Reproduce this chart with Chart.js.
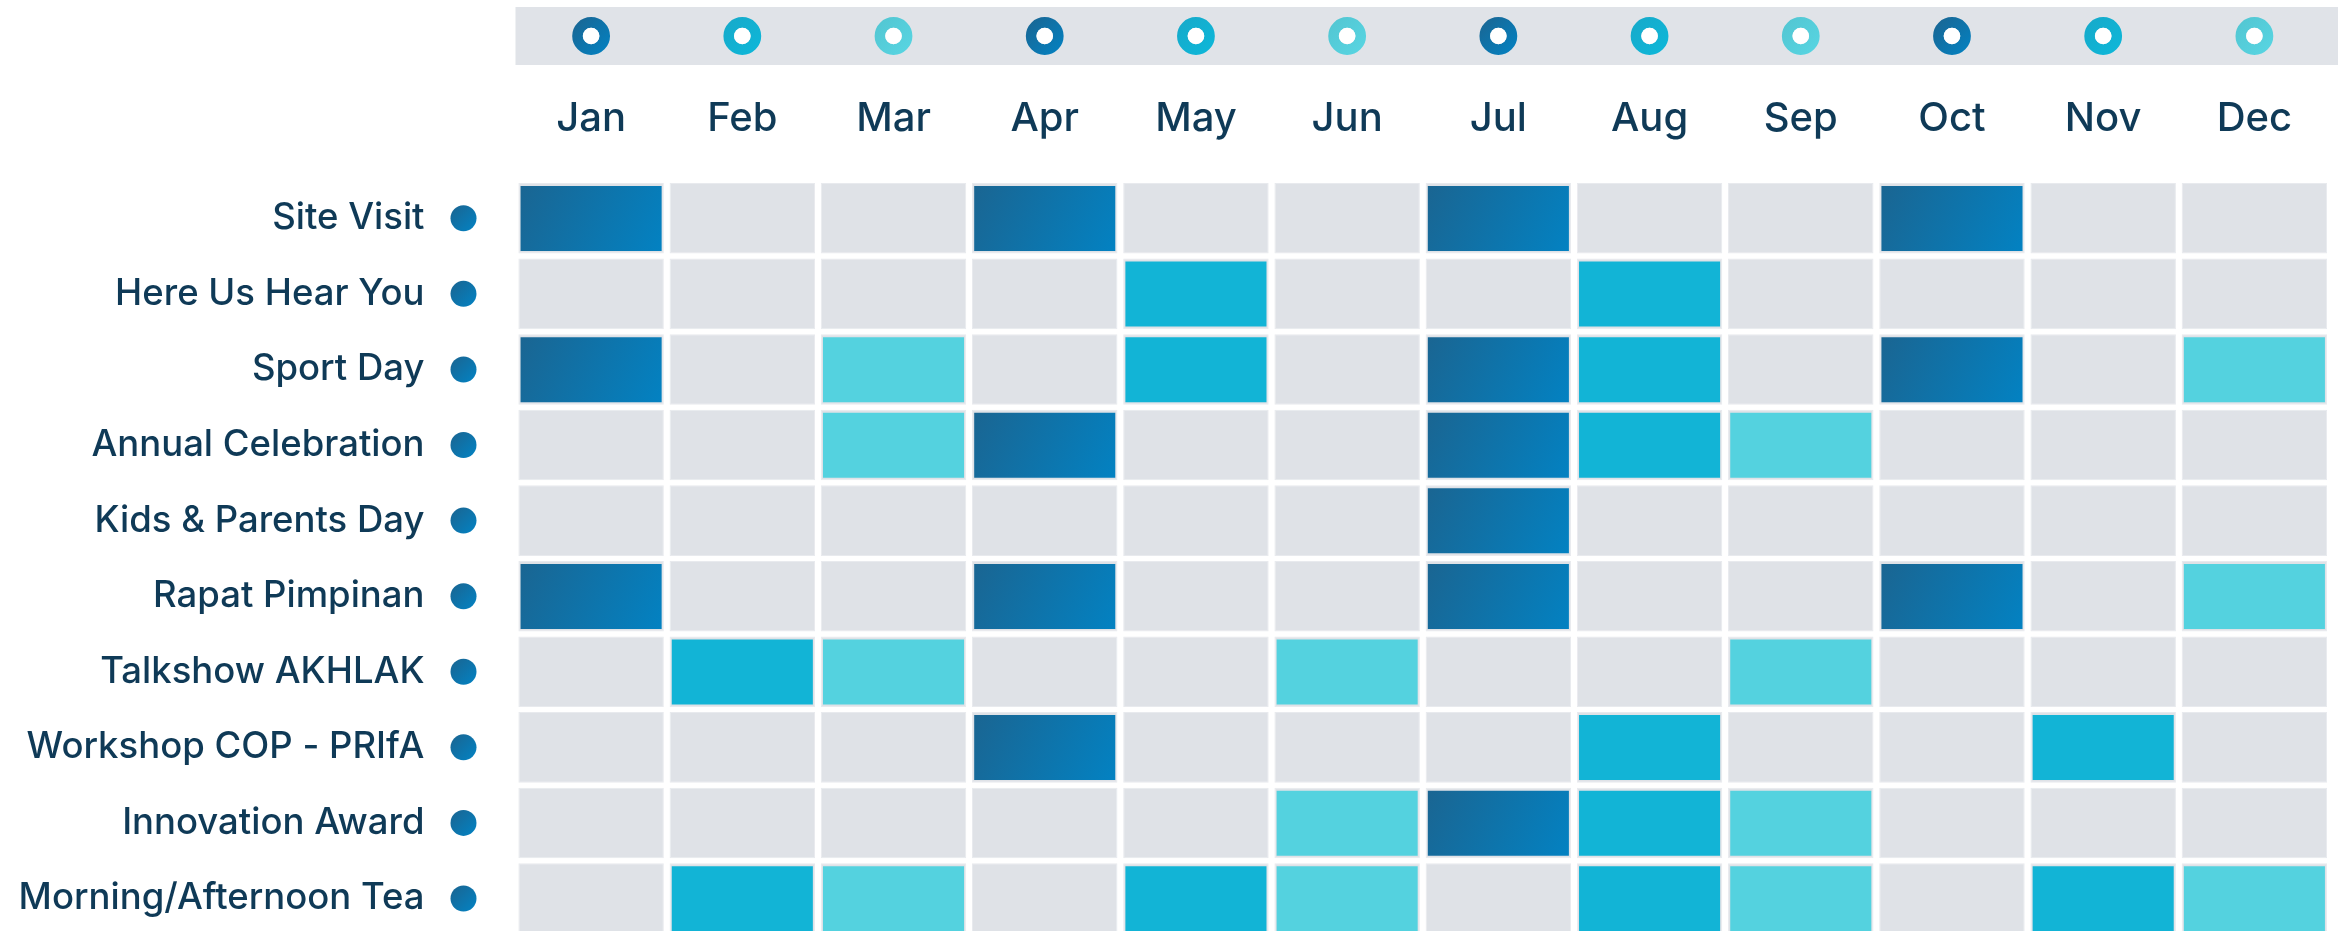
<!DOCTYPE html>
<html>
<head>
<meta charset="utf-8">
<script src="https://cdn.jsdelivr.net/npm/chart.js@4.4.1/dist/chart.umd.min.js"></script>
<style>
  html, body { margin: 0; padding: 0; background: #fff; }
  #contenedor { width: 2338px; height: 931px; }
</style>
</head>
<body>
<div id="contenedor"><canvas id="myChart"></canvas></div>
<script>
const meses = ['Jan', 'Feb', 'Mar', 'Apr', 'May', 'Jun', 'Jul', 'Aug', 'Sep', 'Oct', 'Nov', 'Dec'];

const actividades = [
  'Site Visit',
  'Here Us Hear You',
  'Sport Day',
  'Annual Celebration',
  'Kids & Parents Day',
  'Rapat Pimpinan',
  'Talkshow AKHLAK',
  'Workshop COP - PRIfA',
  'Innovation Award',
  'Morning/Afternoon Tea'
];

// 1 = hay actividad ese mes
const agenda = [
  [1, 0, 0, 1, 0, 0, 1, 0, 0, 1, 0, 0],
  [0, 0, 0, 0, 1, 0, 0, 1, 0, 0, 0, 0],
  [1, 0, 1, 0, 1, 0, 1, 1, 0, 1, 0, 1],
  [0, 0, 1, 1, 0, 0, 1, 1, 1, 0, 0, 0],
  [0, 0, 0, 0, 0, 0, 1, 0, 0, 0, 0, 0],
  [1, 0, 0, 1, 0, 0, 1, 0, 0, 1, 0, 1],
  [0, 1, 1, 0, 0, 1, 0, 0, 1, 0, 0, 0],
  [0, 0, 0, 1, 0, 0, 0, 1, 0, 0, 1, 0],
  [0, 0, 0, 0, 0, 1, 1, 1, 1, 0, 0, 0],
  [0, 1, 1, 0, 1, 1, 0, 1, 1, 0, 1, 1]
];

// tono de cada mes: 0 azul oscuro, 1 cian, 2 cian claro
const tonoMes = [0, 1, 2, 0, 1, 2, 0, 1, 2, 0, 1, 2];

const TEXTO = '#0f3a57';
const GRIS = '#dfe2e7';
const FUENTE = "Inter, 'Open Sans', sans-serif";

const degradado = (ctx, x0, y0, x1, y1, tono) => {
  const g = ctx.createLinearGradient(x0, y0, x1, y1);
  if (tono === 0) {
    g.addColorStop(0, '#1b6490');
    g.addColorStop(1, '#0283c4');
  } else if (tono === 1) {
    g.addColorStop(0, '#17a9c9');
    g.addColorStop(1, '#0db8da');
  } else {
    g.addColorStop(0, '#52c5d1');
    g.addColorStop(1, '#58d6e3');
  }
  return g;
}

const colorCelda = fila => context => {
  const tono = tonoMes[context.dataIndex];
  if (tono === 1) return '#12b4d6';
  if (tono === 2) return '#54d2df';
  const {x, y} = context.chart.scales;
  if (!x || !y) return '#1370a6';
  const cx = x.getPixelForValue(context.dataIndex);
  const ancho = x.getPixelForValue(1) - x.getPixelForValue(0);
  const y0 = y.getPixelForValue(fila);
  const y1 = y.getPixelForValue(fila + 1);
  // en el primer pase las escalas todavia no tienen medidas
  if (![cx, ancho, y0, y1].every(Number.isFinite)) return '#1370a6';
  return degradado(context.chart.ctx, cx - ancho / 2, y0, cx + ancho / 2, y1, 0);
}

const fondo = actividades.map((nombre, fila) => ({
  label: nombre + ' fondo',
  data: meses.map(() => [fila + 0.033, fila + 0.967]),
  backgroundColor: GRIS,
  borderColor: '#e8eaee',
  borderWidth: 1,
  borderSkipped: false,
  grouped: false,
  categoryPercentage: 1,
  barPercentage: 0.962,
  order: 2
}));

const marcas = actividades.map((nombre, fila) => ({
  label: nombre,
  data: agenda[fila].map(v => v ? [fila + 0.073, fila + 0.933] : null),
  backgroundColor: colorCelda(fila),
  borderWidth: 0,
  grouped: false,
  categoryPercentage: 1,
  barPercentage: 0.933,
  order: 1
}));

const decoracion = {
  id: 'decoracion',
  beforeDatasetsDraw(chart) {
    const {ctx, chartArea, scales: {x, y}} = chart;
    ctx.save();

    // franja superior con anillos
    ctx.fillStyle = '#e0e3e8';
    ctx.fillRect(chartArea.left, 7, chart.width - chartArea.left, 58);
    meses.forEach((mes, i) => {
      const cx = x.getPixelForValue(i);
      const cy = 36;
      ctx.beginPath();
      ctx.arc(cx, cy, 13.6, 0, Math.PI * 2);
      ctx.lineWidth = 10.6;
      ctx.strokeStyle = degradado(ctx, cx - 19, cy - 19, cx + 19, cy + 19, tonoMes[i]);
      ctx.stroke();
      ctx.beginPath();
      ctx.arc(cx, cy, 8.3, 0, Math.PI * 2);
      ctx.fillStyle = '#ffffff';
      ctx.fill();
    });

    // puntos junto a cada actividad
    actividades.forEach((nombre, i) => {
      const cx = chartArea.left - 52;
      const cy = y.getPixelForValue(i + 0.5);
      ctx.beginPath();
      ctx.arc(cx, cy, 13, 0, Math.PI * 2);
      ctx.fillStyle = degradado(ctx, cx - 13, cy - 13, cx + 13, cy + 13, 0);
      ctx.fill();
    });

    ctx.restore();
  }
};

const config = {
  type: 'bar',
  data: {
    labels: meses,
    datasets: [...marcas, ...fondo]
  },
  options: {
    responsive: true,
    maintainAspectRatio: false,
    animation: false,
    layout: { padding: { left: 0, right: 8, top: 0, bottom: 0 } },
    plugins: {
      legend: { display: false },
      tooltip: { enabled: false }
    },
    scales: {
      x: {
        type: 'category',
        position: 'top',
        offset: true,
        grid: { display: false, drawTicks: false },
        border: { display: false },
        ticks: {
          color: TEXTO,
          padding: 38,
          maxRotation: 0,
          autoSkip: false,
          font: { family: FUENTE, size: 40, weight: '500' }
        },
        afterFit: scale => {
          scale.height = 180.5;
          scale.paddingLeft = 0;
          scale.paddingRight = 0;
        }
      },
      y: {
        type: 'linear',
        reverse: true,
        min: 0,
        max: 9.93,
        grid: { display: false, drawTicks: false },
        border: { display: false },
        ticks: {
          color: TEXTO,
          padding: 91,
          autoSkip: false,
          font: { family: FUENTE, size: 36.5, weight: '500' },
          callback: (valor, indice) => actividades[indice]
        },
        afterBuildTicks: scale => {
          scale.ticks = actividades.map((nombre, i) => ({ value: i + 0.5 }));
        },
        afterFit: scale => {
          scale.width = 515.5;
          scale.paddingTop = 0;
          scale.paddingBottom = 0;
        }
      }
    }
  },
  plugins: [decoracion]
};

const myChart = new Chart(document.getElementById('myChart'), config);
</script>
</body>
</html>
